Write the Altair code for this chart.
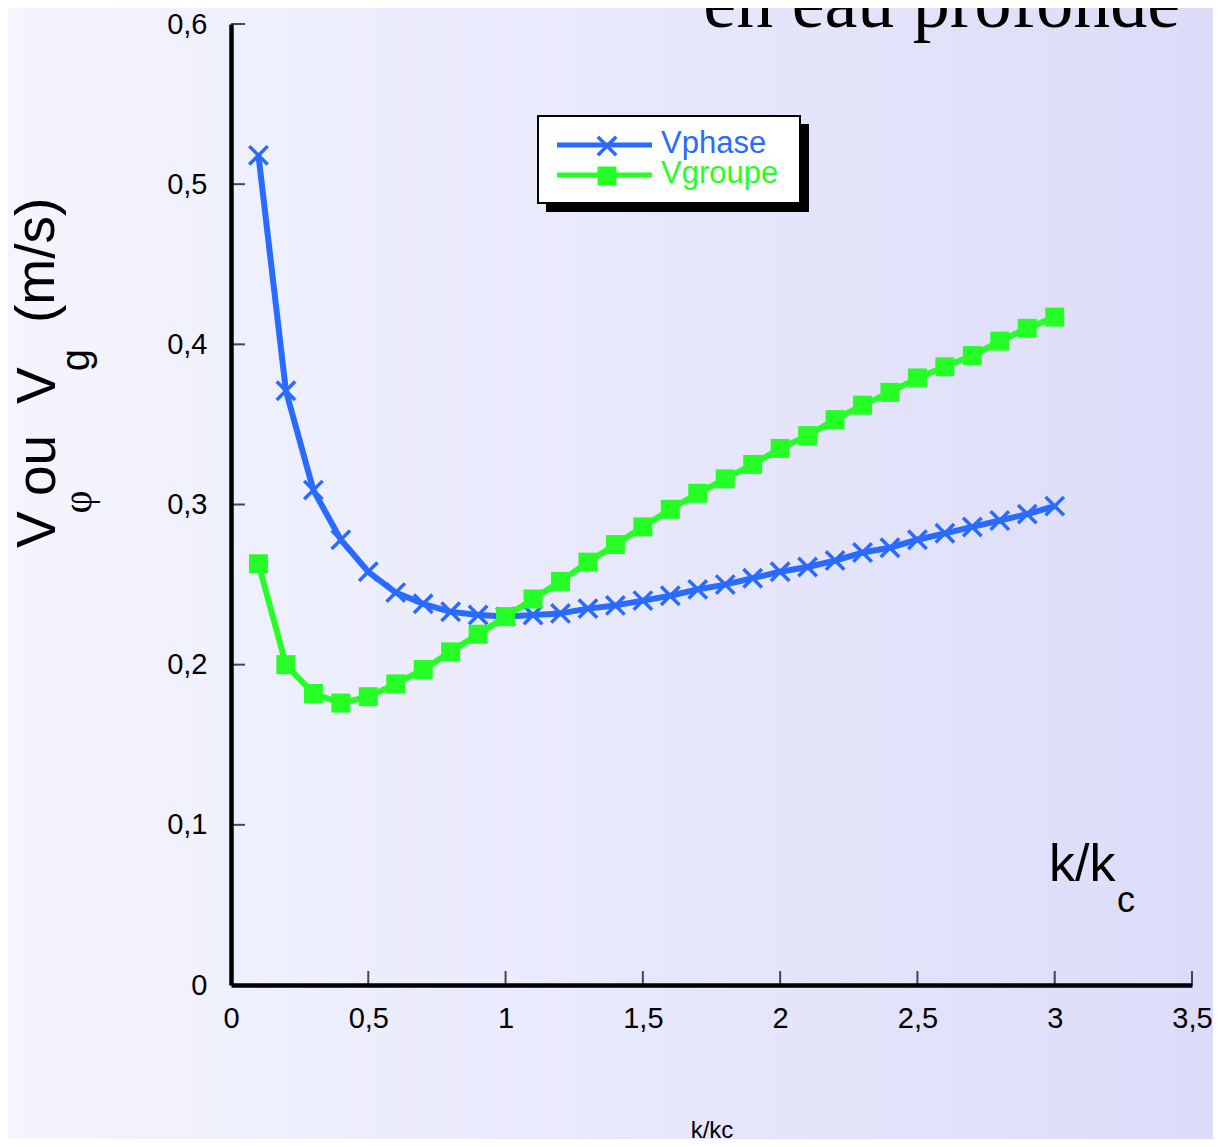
import altair as alt
import pandas as pd

# ---- data ----
k_ratio = [0.1, 0.2, 0.3, 0.4, 0.5, 0.6, 0.7, 0.8, 0.9, 1.0,
           1.1, 1.2, 1.3, 1.4, 1.5, 1.6, 1.7, 1.8, 1.9, 2.0,
           2.1, 2.2, 2.3, 2.4, 2.5, 2.6, 2.7, 2.8, 2.9, 3.0]
vphase = [0.518, 0.371, 0.309, 0.278, 0.258, 0.245, 0.238, 0.233, 0.231, 0.230,
          0.231, 0.232, 0.235, 0.237, 0.240, 0.243, 0.247, 0.250, 0.254, 0.258,
          0.261, 0.265, 0.270, 0.273, 0.278, 0.282, 0.286, 0.290, 0.294, 0.299]
vgroupe = [0.263, 0.200, 0.182, 0.176, 0.180, 0.188, 0.197, 0.208, 0.219, 0.230,
           0.241, 0.252, 0.264, 0.275, 0.286, 0.297, 0.307, 0.316, 0.325, 0.335,
           0.343, 0.353, 0.362, 0.370, 0.379, 0.386, 0.393, 0.402, 0.410, 0.417]
series_names = ["Vphase", "Vgroupe"]
x_ticks = [0, 0.5, 1, 1.5, 2, 2.5, 3, 3.5]
y_ticks = [0, 0.1, 0.2, 0.3, 0.4, 0.5, 0.6]

BLUE = "#2A6BFF"
GREEN = "#25FF25"
SANS = "Liberation Sans, Arial, Helvetica, sans-serif"
SERIF = "Liberation Serif, Times New Roman, serif"

df_phase = pd.DataFrame({"k": k_ratio, "v": vphase})
df_groupe = pd.DataFrame({"k": k_ratio, "v": vgroupe})
df_xt = pd.DataFrame({"k": x_ticks[1:], "v": [0] * (len(x_ticks) - 1)})
df_yt = pd.DataFrame({"k": [0] * (len(y_ticks) - 1), "v": y_ticks[1:]})
one = pd.DataFrame({"a": [0]})

label_expr = "replace(toString(datum.value), '.', ',')"

xscale = alt.Scale(domain=[0, 3.5], nice=False, zero=False)
yscale = alt.Scale(domain=[0, 0.6], nice=False, zero=False)

X = alt.X("k:Q", scale=xscale,
          axis=alt.Axis(values=x_ticks, labelExpr=label_expr, title="k/kc",
                        grid=False, ticks=False, tickSize=0, domainColor="black",
                        domainWidth=4.5, labelFont=SANS, labelFontSize=29,
                        labelColor="black", labelPadding=19, labelFlush=False,
                        titleFont=SANS, titleFontSize=24, titleFontWeight="normal",
                        titleColor="black", titleY=152, titleBaseline="alphabetic",
                        zindex=1))
Y = alt.Y("v:Q", scale=yscale,
          axis=alt.Axis(values=y_ticks, labelExpr=label_expr, title=None,
                        grid=False, ticks=False, tickSize=0, domainColor="black",
                        domainWidth=4.5, labelFont=SANS, labelFontSize=29,
                        labelColor="black", labelPadding=24, labelFlush=False,
                        zindex=1))

# background gradient
bg = alt.Chart(one).mark_rect(
    fill=alt.Gradient(gradient="linear",
                      stops=[alt.GradientStop(color="#F4F5FE", offset=0),
                             alt.GradientStop(color="#DCDCF9", offset=1)],
                      x1=0, x2=1, y1=0, y2=0)
).encode(x=alt.value(-223), x2=alt.value(982), y=alt.value(-16), y2=alt.value(1115))

base_axes = alt.Chart(df_phase).mark_point(opacity=0).encode(x=X, y=Y)

xt = alt.Chart(df_xt).mark_tick(orient="vertical", size=14, thickness=2,
                                color="black", yOffset=-7).encode(x="k:Q", y="v:Q")
yt = alt.Chart(df_yt).mark_tick(orient="horizontal", size=14, thickness=2,
                                color="black", xOffset=7).encode(x="k:Q", y="v:Q")

X_CROSS = "M-1,-1L1,1M-1,1L1,-1"

phase_line = alt.Chart(df_phase).mark_line(color=BLUE, strokeWidth=6,
                                           strokeJoin="round").encode(x="k:Q", y="v:Q")
phase_pts = alt.Chart(df_phase).mark_point(shape=X_CROSS, filled=False, stroke=BLUE,
                                           strokeWidth=3.5, size=340, opacity=1
                                           ).encode(x="k:Q", y="v:Q")
groupe_line = alt.Chart(df_groupe).mark_line(color=GREEN, strokeWidth=6).encode(x="k:Q", y="v:Q")
groupe_pts = alt.Chart(df_groupe).mark_point(shape="square", filled=True, color=GREEN,
                                             size=361, opacity=1).encode(x="k:Q", y="v:Q")

# legend (drawn by hand to get the box with shadow)
leg_shadow = alt.Chart(one).mark_rect(fill="black").encode(
    x=alt.value(315), x2=alt.value(578), y=alt.value(100), y2=alt.value(188))
leg_box = alt.Chart(one).mark_rect(fill="white", stroke="black", strokeWidth=2).encode(
    x=alt.value(307), x2=alt.value(569), y=alt.value(92), y2=alt.value(179))
leg_l1 = alt.Chart(one).mark_rule(color=BLUE, strokeWidth=5).encode(
    x=alt.value(326), x2=alt.value(421), y=alt.value(121))
leg_l2 = alt.Chart(one).mark_rule(color=GREEN, strokeWidth=5).encode(
    x=alt.value(326), x2=alt.value(421), y=alt.value(151))
leg_m1 = alt.Chart(one).mark_point(shape=X_CROSS, filled=False, stroke=BLUE,
                                   strokeWidth=3.5, size=340, opacity=1).encode(
    x=alt.value(376), y=alt.value(122))
leg_m2 = alt.Chart(one).mark_point(shape="square", filled=True, color=GREEN,
                                   size=361, opacity=1).encode(
    x=alt.value(376), y=alt.value(152))
leg_t1 = alt.Chart(one).mark_text(text=series_names[0], font=SANS, fontSize=31,
                                  color=BLUE, align="left", baseline="alphabetic").encode(
    x=alt.value(430), y=alt.value(129))
leg_t2 = alt.Chart(one).mark_text(text=series_names[1], font=SANS, fontSize=31,
                                  color=GREEN, align="left", baseline="alphabetic").encode(
    x=alt.value(430), y=alt.value(159))

# y axis title pieces (rotated)
def ytxt(s, x, y, size, font=SANS, align="left"):
    return alt.Chart(one).mark_text(text=s, font=font, fontSize=size, color="black",
                                    angle=270, align=align, baseline="alphabetic"
                                    ).encode(x=alt.value(x), y=alt.value(y))

yt1 = ytxt("V", -176, 524, 55)
yt2 = ytxt("\u03c6", -140, 478, 40, font=SERIF, align="center")
yt3 = ytxt("ou", -176, 472, 55)
yt4 = ytxt("V", -176, 380, 55)
yt5 = ytxt("g", -142, 336, 40, align="center")
yt6 = ytxt("(m/s)", -177, 299, 55)

# k/k_c annotation
kk = alt.Chart(one).mark_text(text="k/k", font=SANS, fontSize=52, color="black",
                              align="left", baseline="alphabetic").encode(
    x=alt.value(818), y=alt.value(857))
kc = alt.Chart(one).mark_text(text="c", font=SANS, fontSize=36, color="black",
                              align="left", baseline="alphabetic").encode(
    x=alt.value(886), y=alt.value(888))

# partially visible slide title
title = alt.Chart(one).mark_text(text="en eau profonde", font=SERIF, fontSize=74,
                                 color="black", align="right", baseline="alphabetic").encode(
    x=alt.value(949), y=alt.value(3))

chart = alt.layer(
    bg, base_axes, xt, yt,
    phase_line, phase_pts, groupe_line, groupe_pts,
    leg_shadow, leg_box, leg_l1, leg_l2, leg_m1, leg_m2, leg_t1, leg_t2,
    yt1, yt2, yt3, yt4, yt5, yt6, kk, kc, title
).properties(
    width=961, height=961,
    autosize=alt.AutoSizeParams(type="none"),
    padding={"left": 223, "top": 16, "right": 21, "bottom": 154},
    background="#F3F4FD"
).configure_view(stroke=None)

chart.save("out.html", embed_options={"renderer": "svg", "actions": False})
